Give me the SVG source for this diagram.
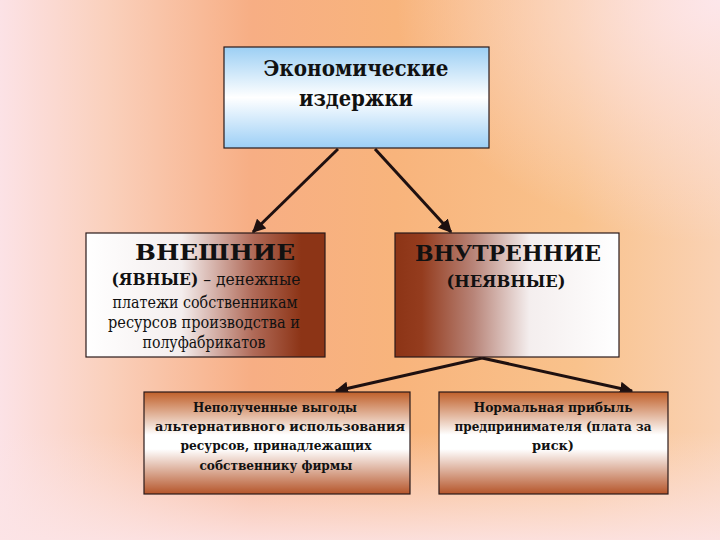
<svg xmlns="http://www.w3.org/2000/svg" width="720" height="540" viewBox="0 0 720 540">
<defs>
<linearGradient id="bg" x1="0" y1="0" x2="1" y2="0">
<stop offset="0" stop-color="#fce2e6"/>
<stop offset="0.15" stop-color="#fad0bc"/>
<stop offset="0.35" stop-color="#f7ae84"/>
<stop offset="0.55" stop-color="#f8b47c"/>
<stop offset="0.8" stop-color="#f9c28c"/>
<stop offset="1" stop-color="#fad2b4"/>
</linearGradient>
<radialGradient id="tr" cx="1" cy="0" r="0.45">
<stop offset="0" stop-color="#fde6ea" stop-opacity="1"/>
<stop offset="1" stop-color="#fde6ea" stop-opacity="0"/>
</radialGradient>
<linearGradient id="bot" x1="0" y1="0" x2="0" y2="1">
<stop offset="0.8" stop-color="#fce4e6" stop-opacity="0"/>
<stop offset="1" stop-color="#fce4e6" stop-opacity="0.9"/>
</linearGradient>
<linearGradient id="blue" x1="0" y1="0" x2="0" y2="1">
<stop offset="0" stop-color="#9ccff4"/>
<stop offset="0.5" stop-color="#ffffff"/>
<stop offset="1" stop-color="#9ccff6"/>
</linearGradient>
<linearGradient id="wb" x1="0" y1="0" x2="1" y2="0">
<stop offset="0" stop-color="#ffffff"/>
<stop offset="0.4" stop-color="#f4eeee"/>
<stop offset="0.7" stop-color="#b06a58"/>
<stop offset="0.9" stop-color="#8c3416"/>
<stop offset="1" stop-color="#8c3416"/>
</linearGradient>
<linearGradient id="bw" x1="0" y1="0" x2="1" y2="0">
<stop offset="0" stop-color="#8c3416"/>
<stop offset="0.12" stop-color="#943c1e"/>
<stop offset="0.35" stop-color="#b88478"/>
<stop offset="0.6" stop-color="#f4eeee"/>
<stop offset="1" stop-color="#ffffff"/>
</linearGradient>
<linearGradient id="ob" x1="0" y1="0" x2="0" y2="1">
<stop offset="0" stop-color="#c0602a"/>
<stop offset="0.42" stop-color="#ffffff"/>
<stop offset="0.56" stop-color="#ffffff"/>
<stop offset="1" stop-color="#b5552a"/>
</linearGradient>
<marker id="ah" viewBox="0 0 10 10" refX="9" refY="5" markerWidth="4.5" markerHeight="4.5" orient="auto" markerUnits="strokeWidth">
<path d="M0,0 L10,5 L0,10 Z" fill="#1e1010"/>
</marker>
<style>
.box{stroke:#2a1a1a;stroke-width:1.2}
.t{fill:#111;text-anchor:middle}
.b{font-weight:bold}
.c{stroke:#1e1010;stroke-width:3;fill:none;marker-end:url(#ah)}
</style>
</defs>
<rect width="720" height="540" fill="url(#bg)"/>
<rect width="720" height="540" fill="url(#tr)"/>
<rect width="720" height="540" fill="url(#bot)"/>

<g id="connectors">
<line class="c" x1="338" y1="149" x2="253" y2="232"/>
<line class="c" x1="375" y1="149" x2="451" y2="232"/>
<line class="c" x1="482" y1="358" x2="336" y2="391"/>
<line class="c" x1="482" y1="358" x2="632" y2="391"/>
</g>

<g font-family="DejaVu Serif, serif" lengthAdjust="spacingAndGlyphs">
<g id="top">
<rect class="box" x="224" y="47" width="265" height="101" fill="url(#blue)"/>
<text class="t b" x="356" y="76" font-size="23" textLength="185" lengthAdjust="spacingAndGlyphs">Экономические</text>
<text class="t b" x="356" y="106" font-size="23" textLength="114" lengthAdjust="spacingAndGlyphs">издержки</text>
</g>

<g id="external">
<rect class="box" x="86" y="233" width="239" height="124" fill="url(#wb)"/>
<text class="t b" x="215" y="260" font-size="23" textLength="160" lengthAdjust="spacingAndGlyphs">ВНЕШНИЕ</text>
<text class="t" x="206" y="285" font-size="16" textLength="189" lengthAdjust="spacingAndGlyphs"><tspan font-weight="bold">(ЯВНЫЕ)</tspan> – денежные</text>
<text class="t" x="205" y="308" font-size="16" textLength="185" lengthAdjust="spacingAndGlyphs">платежи собственникам</text>
<text class="t" x="204" y="328" font-size="16" textLength="192" lengthAdjust="spacingAndGlyphs">ресурсов производства и</text>
<text class="t" x="204" y="348" font-size="16" textLength="123" lengthAdjust="spacingAndGlyphs">полуфабрикатов</text>
</g>

<g id="internal">
<rect class="box" x="395" y="233" width="224" height="124" fill="url(#bw)"/>
<text class="t b" x="508" y="261" font-size="23" textLength="186" lengthAdjust="spacingAndGlyphs">ВНУТРЕННИЕ</text>
<text class="t b" x="506" y="287" font-size="17" textLength="119" lengthAdjust="spacingAndGlyphs">(НЕЯВНЫЕ)</text>
</g>

<g id="opportunity">
<rect class="box" x="144" y="392" width="266" height="102" fill="url(#ob)"/>
<text class="t b" x="275" y="412" font-size="13.5" textLength="164" lengthAdjust="spacingAndGlyphs">Неполученные выгоды</text>
<text class="t b" x="280" y="431" font-size="13.5" textLength="250" lengthAdjust="spacingAndGlyphs">альтернативного использования</text>
<text class="t b" x="276" y="450" font-size="13.5" textLength="191" lengthAdjust="spacingAndGlyphs">ресурсов, принадлежащих</text>
<text class="t b" x="276" y="470" font-size="13.5" textLength="153" lengthAdjust="spacingAndGlyphs">собственнику фирмы</text>
</g>

<g id="normalprofit">
<rect class="box" x="439" y="392" width="229" height="102" fill="url(#ob)"/>
<text class="t b" x="553" y="412" font-size="13.5" textLength="159" lengthAdjust="spacingAndGlyphs">Нормальная прибыль</text>
<text class="t b" x="553" y="431" font-size="13.5" textLength="197" lengthAdjust="spacingAndGlyphs">предпринимателя (плата за</text>
<text class="t b" x="553" y="450" font-size="13.5" textLength="42" lengthAdjust="spacingAndGlyphs">риск)</text>
</g>
</g>
</svg>
